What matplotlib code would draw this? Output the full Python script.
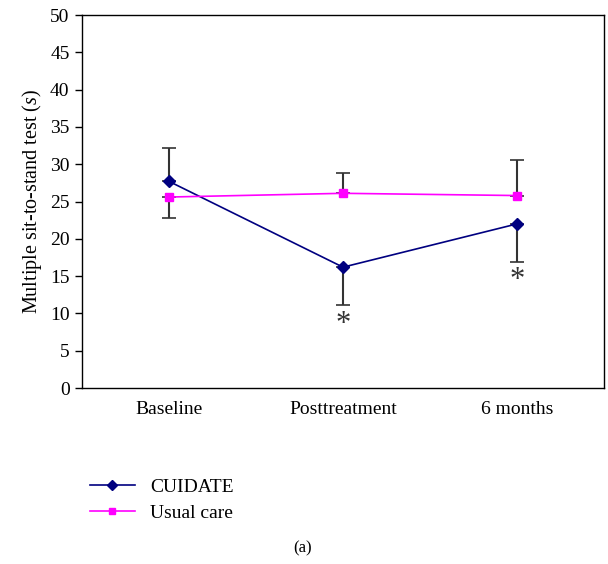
import numpy as np
import matplotlib.pyplot as plt

plt.rcParams['font.family'] = ['Liberation Serif', 'DejaVu Serif']
plt.rcParams['mathtext.fontset'] = 'custom'
plt.rcParams['mathtext.it'] = 'Liberation Serif:italic'
plt.rcParams['mathtext.rm'] = 'Liberation Serif'

timepoints = ['Baseline', 'Posttreatment', '6 months']
cuidate = [27.7, 16.2, 22.0]
cuidate_err_low = [0.0, 5.1, 5.1]
cuidate_err_high = [4.5, 0.0, 0.0]
usual = [25.6, 26.1, 25.8]
usual_err_low = [2.8, 0.0, 0.0]
usual_err_high = [0.0, 2.7, 4.8]
signif = [False, True, True]

x = np.arange(len(timepoints)) + 0.5

fig = plt.figure(figsize=(6.08, 5.64), dpi=100)
ax = fig.add_axes([0.1349, 0.312, 0.8585, 0.6614])

ax.errorbar(x, cuidate, yerr=[cuidate_err_low, cuidate_err_high], fmt='none',
            ecolor='#333333', elinewidth=1.5, capsize=5, capthick=1.2, zorder=2)
ax.errorbar(x, usual, yerr=[usual_err_low, usual_err_high], fmt='none',
            ecolor='#333333', elinewidth=1.5, capsize=5, capthick=1.2, zorder=2)
l1, = ax.plot(x, cuidate, color='#000080', marker='D', markersize=6, lw=1.2,
              label='CUIDATE', zorder=3)
l2, = ax.plot(x, usual, color='#ff00ff', marker='s', markersize=6, lw=1.2,
              label='Usual care', zorder=3)

# significance markers under the lower whisker
for xi, v, lo, s in zip(x, cuidate, cuidate_err_low, signif):
    if s:
        ax.text(xi, v - lo - 0.6, '*', ha='center', va='top', fontsize=22,
                color='#333333')

ax.set_xlim(0, 3)
ax.set_ylim(0, 50)
ax.set_yticks(np.arange(0, 51, 5))
ax.set_xticks(x)
ax.set_xticklabels(timepoints)
ax.tick_params(axis='x', length=0, pad=9, labelsize=14)
ax.tick_params(axis='y', length=5, width=1, labelsize=14, pad=4)
for sp in ax.spines.values():
    sp.set_linewidth(1)
ax.set_ylabel('Multiple sit-to-stand test ($s$)', fontsize=14.5, labelpad=4)

leg = fig.legend(handles=[l1, l2], loc='upper left', bbox_to_anchor=(0.135, 0.166),
                 frameon=False, fontsize=14, handlelength=2.3, handletextpad=0.8,
                 labelspacing=0.45, borderaxespad=0, markerscale=0.8)
fig.text(0.497, 0.028, '(a)', ha='center', va='center', fontsize=12)

fig.savefig('out.png', dpi=100)
